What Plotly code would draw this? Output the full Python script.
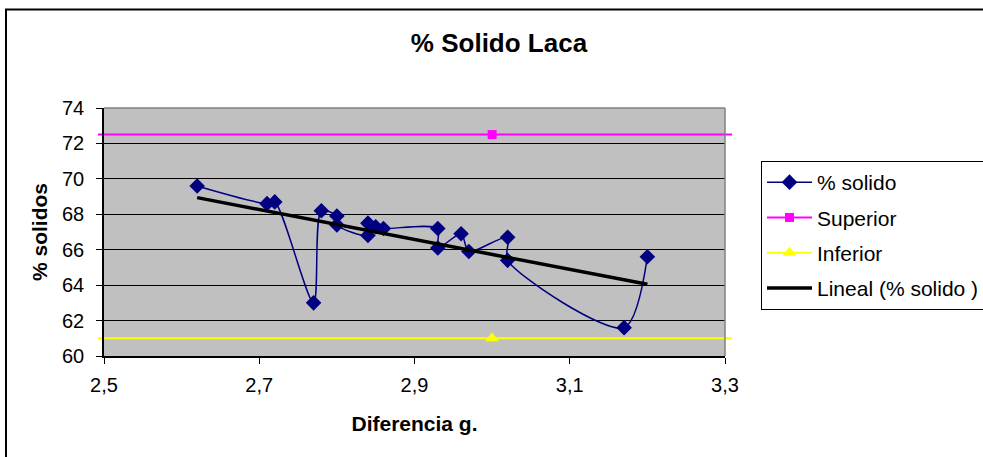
import numpy as np
import plotly.graph_objects as go

# ---- data ----
dif_g = [2.62, 2.71, 2.72, 2.77, 2.78, 2.80, 2.80, 2.84, 2.84, 2.85, 2.86,
         2.93, 2.93, 2.96, 2.97, 3.02, 3.02, 3.17, 3.20]
solido = [69.6, 68.6, 68.7, 63.0, 68.2, 67.9, 67.4, 66.8, 67.5, 67.3, 67.2,
          67.2, 66.1, 66.9, 65.9, 66.7, 65.4, 61.6, 65.6]
sup_x = [3.0]
sup_y = [72.5]
inf_x = [3.0]
inf_y = [61.0]
x_ticks = [2.5, 2.7, 2.9, 3.1, 3.3]
x_ticktext = ["2,5", "2,7", "2,9", "3,1", "3,3"]
y_ticks = [60, 62, 64, 66, 68, 70, 72, 74]

# linear trend (Excel "Lineal")
slope, intercept = np.polyfit(dif_g, solido, 1)
trend_x = [min(dif_g), max(dif_g)]
trend_y = [slope * v + intercept for v in trend_x]

FONT = "Liberation Sans, Arial, sans-serif"
W, H = 983, 457
ml, mr, mt, mb = 104, 258, 108, 101
pw = W - ml - mr
ph = H - mt - mb

def px2paperx(px):
    return (px - ml) / pw

def py2papery(py):
    return (H - mb - py) / ph

fig = go.Figure()
fig.add_trace(go.Scatter(
    x=dif_g, y=solido, name="% solido", mode="lines+markers",
    line=dict(color="#000080", width=1.5, shape="spline", smoothing=0.8),
    marker=dict(symbol="diamond", size=12, color="#000080"),
    legendgroup="a"))
fig.add_trace(go.Scatter(
    x=sup_x, y=sup_y, name="Superior", mode="lines+markers",
    line=dict(color="#FF00FF", width=2),
    marker=dict(symbol="square", size=9, color="#FF00FF"),
    legendgroup="b"))
fig.add_trace(go.Scatter(
    x=inf_x, y=inf_y, name="Inferior", mode="lines+markers",
    line=dict(color="#FFFF00", width=2),
    marker=dict(symbol="triangle-up", size=12, color="#FFFF00"),
    legendgroup="c"))
fig.add_trace(go.Scatter(
    x=trend_x, y=trend_y, name="Lineal (% solido )", mode="lines",
    line=dict(color="#000000", width=3.5),
    legendgroup="d"))

shapes = []
# limit lines extending slightly beyond plot area
for val, col in ((sup_y[0], "#FF00FF"), (inf_y[0], "#FFFF00")):
    shapes.append(dict(type="line", xref="paper", yref="y",
                       x0=px2paperx(98), x1=px2paperx(732), y0=val, y1=val,
                       line=dict(color=col, width=2), layer="between"))
# plot area top / right border (gray)
shapes.append(dict(type="line", xref="paper", yref="paper", x0=0, x1=1, y0=1, y1=1,
                   line=dict(color="#808080", width=1.5)))
shapes.append(dict(type="line", xref="paper", yref="paper", x0=1, x1=1, y0=0, y1=1,
                   line=dict(color="#808080", width=1.5)))
# chart outer border
shapes.append(dict(type="rect", xref="paper", yref="paper",
                   x0=px2paperx(6), x1=px2paperx(1000),
                   y0=py2papery(470), y1=py2papery(9.5),
                   line=dict(color="#000000", width=2), fillcolor="rgba(0,0,0,0)"))

fig.update_layout(
    width=W, height=H,
    margin=dict(l=ml, r=mr, t=mt, b=mb, autoexpand=False),
    paper_bgcolor="white", plot_bgcolor="#C0C0C0",
    font=dict(family=FONT, size=20, color="black"),
    title=dict(text="<b>% Solido Laca</b>", x=499 / W, xref="container", xanchor="center",
               y=1 - 43 / H, yref="container", yanchor="middle",
               font=dict(size=26, family=FONT)),
    showlegend=True,
    legend=dict(x=px2paperx(761), y=py2papery(161), xanchor="left", yanchor="top",
                bgcolor="white", bordercolor="black", borderwidth=1,
                font=dict(size=21, family=FONT), tracegroupgap=5,
                itemwidth=45),
    shapes=shapes,
)
fig.update_xaxes(range=[2.5, 3.3], tickvals=x_ticks, ticktext=x_ticktext,
                 showgrid=False, zeroline=False, showline=True, linecolor="black",
                 linewidth=1.5, ticks="outside", ticklen=6, tickcolor="black",
                 ticklabelstandoff=4,
                 title=dict(text="<b>Diferencia g.</b>", font=dict(size=21), standoff=22))
fig.update_yaxes(range=[60, 74], tickvals=y_ticks,
                 showgrid=True, gridcolor="black", gridwidth=1, zeroline=False,
                 showline=True, linecolor="black", linewidth=1.5,
                 ticks="outside", ticklen=6, tickcolor="black", ticklabelstandoff=8,
                 title=dict(text="<b>% solidos</b>", font=dict(size=21), standoff=9))

fig.write_html("out.html")
